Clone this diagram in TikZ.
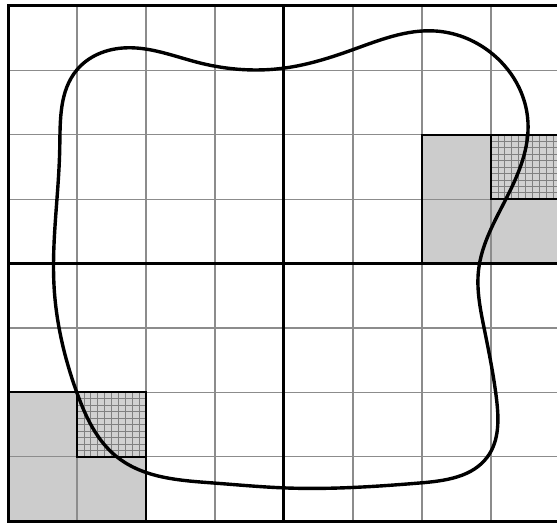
\documentclass[tikz,border=0pt]{standalone}
\usetikzlibrary{calc,hobby}
\tikzset{
	thinline/.style={draw=black!45, line width=0.6pt},
	thickline/.style={draw=black, line width=1.5pt},
	graycell/.style={fill=black!20},
	finecell/.style={fill=black!18},
	finegrid/.style={draw=black!50, line width=0.35pt},
	cellframe/.style={draw=black, line width=1.1pt},
	blob/.style={draw=black, line width=1.7pt, use Hobby shortcut}
}
\begin{document}
\begin{tikzpicture}[x=34.5pt, y=-32.2pt]
	\useasboundingbox (-0.116,-0.093) rectangle (7.957,8.028);
	% shaded blocks
	\fill[graycell] (0,6) rectangle (2,8);
	\fill[graycell] (6,2) rectangle (8,4);
	\fill[finecell] (1,6) rectangle (2,7);
	\fill[finecell] (7,2) rectangle (8,3);
	\foreach \k in {1,...,9} {
		\draw[finegrid] (1+\k/10,6) -- (1+\k/10,7);
		\draw[finegrid] (1,6+\k/10) -- (2,6+\k/10);
		\draw[finegrid] (7+\k/10,2) -- (7+\k/10,3);
		\draw[finegrid] (7,2+\k/10) -- (8,2+\k/10);
	}
	% grid
	\foreach \i in {1,...,7} {
		\draw[thinline] (\i,0) -- (\i,8);
		\draw[thinline] (0,\i) -- (8,\i);
	}
	\draw[thickline] (4,0) -- (4,8) (0,4) -- (8,4);
	\draw[thickline] (0,0) rectangle (8,8);
	% block frames
	\draw[cellframe] (0,6) rectangle (2,8) (1,6) rectangle (2,7);
	\draw[cellframe] (6,2) rectangle (8,4) (7,2) rectangle (8,3);
	% contour
	\draw[blob, closed=true] (1.0,0.99) .. (1.667,0.652) .. (2.783,0.885)
		.. (4.014,0.963) .. (4.986,0.683) .. (6.188,0.388) .. (6.986,0.714)
		.. (7.536,1.8) .. (7.232,2.966) .. (6.82,4.1) .. (6.9,5.0)
		.. (7.08,6.1) .. (6.95,7.0) .. (5.971,7.407) .. (4.014,7.484)
		.. (2.971,7.407) .. (1.580,7.003) .. (1.0,6.009) .. (0.67,4.4)
		.. (0.75,2.2);
\end{tikzpicture}
\end{document}
